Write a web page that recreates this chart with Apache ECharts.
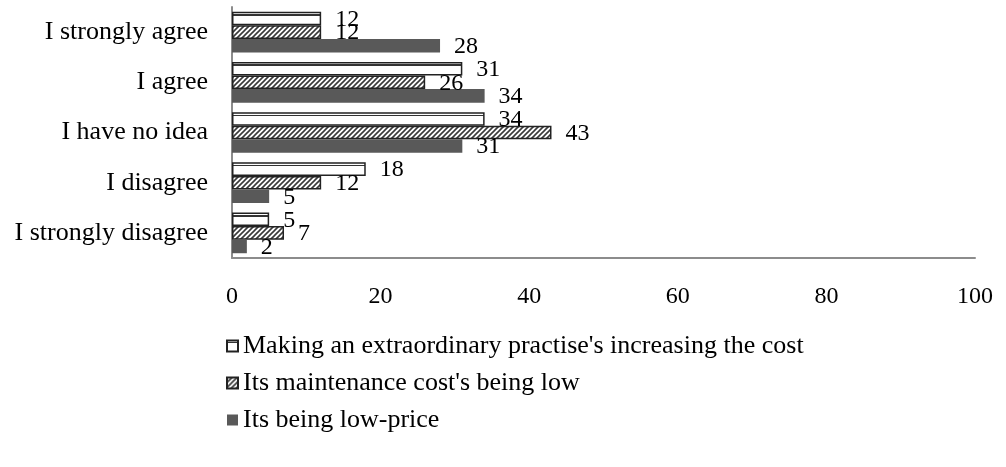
<!DOCTYPE html>
<html>
<head>
<meta charset="utf-8">
<script src="https://cdn.jsdelivr.net/npm/echarts@6/dist/echarts.min.js"></script>
<style>
  html, body { margin: 0; padding: 0; background: #fff; }
  #chart { width: 1006px; height: 467px; }
</style>
</head>
<body>
<div id="chart"></div>
<script>
const categories = ["I strongly agree", "I agree", "I have no idea", "I disagree", "I strongly disagree"]
const seriesNames = [
    "Making an extraordinary practise's increasing the cost",
    "Its maintenance cost's being low",
    "Its being low-price"
]
const increasingCost = [12, 31, 34, 18, 5]
const maintenanceLow = [12, 26, 43, 12, 7]
const lowPrice = [28, 34, 31, 5, 2]
const xTicks = [0, 20, 40, 60, 80, 100]

// diagonal hatch pattern
function hatchCanvas(){
    let c = document.createElement("canvas")
    c.width = 5
    c.height = 5
    let ctx = c.getContext("2d")
    ctx.fillStyle = "#fff"
    ctx.fillRect(0, 0, 5, 5)
    ctx.strokeStyle = "#3a3a3a"
    ctx.lineWidth = 1.6
    ctx.beginPath()
    ctx.moveTo(-1, 6); ctx.lineTo(6, -1)
    ctx.moveTo(-4, 4); ctx.lineTo(4, -4)
    ctx.moveTo(1, 9); ctx.lineTo(9, 1)
    ctx.stroke()
    return c
}

const font = "'Liberation Serif', 'Times New Roman', serif"

let myChart = echarts.init(document.getElementById("chart"))

let labelStyle = {
    show: true,
    position: "right",
    distance: 14,
    offset: [0, 1],
    color: "#000",
    fontFamily: font,
    fontSize: 24
}

let option = {
    animation: false,
    textStyle: { fontFamily: font },
    grid: {
        left: 232,
        right: 31,
        top: 7,
        bottom: 209,
        containLabel: false
    },
    legend: {
        orient: "vertical",
        left: 221,
        top: 328,
        itemGap: 11,
        itemWidth: 11,
        itemHeight: 11,
        itemTextGap: 5,
        icon: "rect",
        textStyle: { fontFamily: font, fontSize: 26, color: "#000" },
        data: seriesNames
    },
    xAxis: {
        type: "value",
        min: 0,
        max: 100,
        interval: 20,
        axisLine: { show: true, lineStyle: { color: "#8c8c8c", width: 2 } },
        axisTick: { show: false },
        splitLine: { show: false },
        axisLabel: {
            margin: 27,
            color: "#000",
            fontFamily: font,
            fontSize: 24,
            formatter: v => xTicks.indexOf(v) >= 0 ? String(v) : ""
        }
    },
    yAxis: {
        type: "category",
        inverse: true,
        data: categories,
        axisLine: { show: true, lineStyle: { color: "#8c8c8c", width: 2 } },
        axisTick: { show: false },
        axisLabel: {
            margin: 24,
            color: "#000",
            fontFamily: font,
            fontSize: 26
        }
    },
    series: [
        {
            name: seriesNames[0],
            type: "bar",
            data: increasingCost,
            barGap: "0%",
            barCategoryGap: "19%",
            itemStyle: {
                color: {
                    type: "linear", x: 0, y: 0, x2: 0, y2: 1,
                    colorStops: [
                        { offset: 0, color: "#fff" },
                        { offset: 0.18, color: "#fff" },
                        { offset: 0.18, color: "#333" },
                        { offset: 0.3, color: "#333" },
                        { offset: 0.3, color: "#fff" },
                        { offset: 1, color: "#fff" }
                    ]
                },
                borderColor: "#222",
                borderWidth: 1.5
            },
            label: labelStyle
        },
        {
            name: seriesNames[1],
            type: "bar",
            data: maintenanceLow,
            barGap: "0%",
            barCategoryGap: "19%",
            itemStyle: {
                color: { image: hatchCanvas(), repeat: "repeat" },
                borderColor: "#222",
                borderWidth: 1.5
            },
            label: labelStyle
        },
        {
            name: seriesNames[2],
            type: "bar",
            data: lowPrice,
            barGap: "0%",
            barCategoryGap: "19%",
            itemStyle: { color: "#595959" },
            label: labelStyle
        }
    ]
}
myChart.setOption(option)
</script>
</body>
</html>
